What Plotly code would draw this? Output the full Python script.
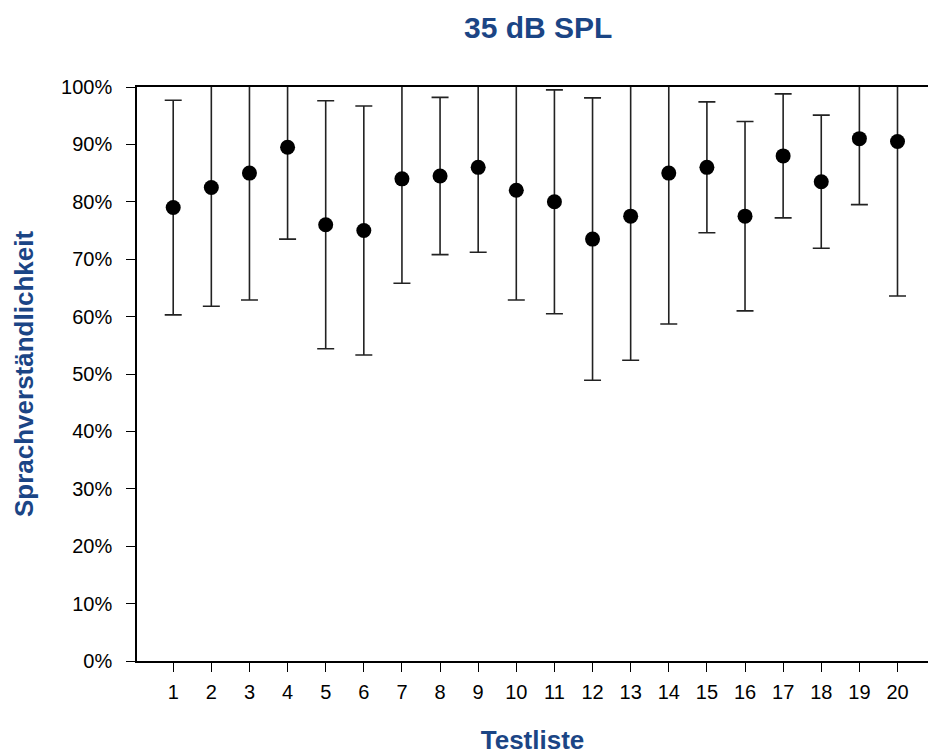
import plotly.graph_objects as go

# Testlisten 1-20: Mittelwert und Standardabweichung der Sprachverständlichkeit (%)
testliste = list(range(1, 21))
mittelwert = [79.0, 82.5, 85.0, 89.5, 76.0, 75.0, 84.0, 84.5, 86.0, 82.0,
              80.0, 73.5, 77.5, 85.0, 86.0, 77.5, 88.0, 83.5, 91.0, 90.5]
std_abw = [18.7, 20.7, 22.1, 16.0, 21.6, 21.7, 18.2, 13.7, 14.8, 19.1,
           19.5, 24.6, 25.1, 26.3, 11.4, 16.5, 10.8, 11.6, 11.5, 26.9]
y_ticks = list(range(0, 101, 10))
y_labels = [f"{v}%" for v in y_ticks]

blau = "#1b4585"

fig = go.Figure(
    go.Scatter(
        x=testliste,
        y=mittelwert,
        mode="markers",
        marker=dict(color="black", size=15, line=dict(width=0)),
        error_y=dict(type="data", array=std_abw, visible=True,
                     color="#222222", thickness=1.6, width=8.5),
        showlegend=False,
    )
)

fig.update_layout(
    width=928,
    height=755,
    margin=dict(l=137, r=0, t=87, b=94),
    paper_bgcolor="white",
    plot_bgcolor="white",
    font=dict(family="Liberation Sans, Arial, sans-serif", size=20, color="black"),
    title=dict(
        text="<b>35 dB SPL</b>",
        font=dict(size=30, color=blau),
        x=0.58, xanchor="center", y=0.964, yanchor="middle",
    ),
)

fig.update_xaxes(
    range=[0.05, 20.8],
    tickmode="array",
    tickvals=testliste,
    ticktext=[str(t) for t in testliste],
    ticks="outside",
    ticklen=9,
    tickwidth=1.3,
    tickcolor="black",
    ticklabelstandoff=3,
    showline=True,
    linecolor="black",
    linewidth=1.6,
    mirror=True,
    showgrid=False,
    zeroline=False,
    title=dict(text="<b>Testliste</b>", font=dict(size=26, color=blau), standoff=31),
)

fig.update_yaxes(
    range=[0, 100],
    tickmode="array",
    tickvals=y_ticks,
    ticktext=y_labels,
    ticks="outside",
    ticklen=9,
    tickwidth=1.3,
    tickcolor="black",
    ticklabelstandoff=10,
    showline=True,
    linecolor="black",
    linewidth=1.6,
    showgrid=False,
    zeroline=False,
    title=dict(text="<b>Sprachverständlichkeit</b>", font=dict(size=26, color=blau), standoff=20),
)

fig.write_html("out.html")
